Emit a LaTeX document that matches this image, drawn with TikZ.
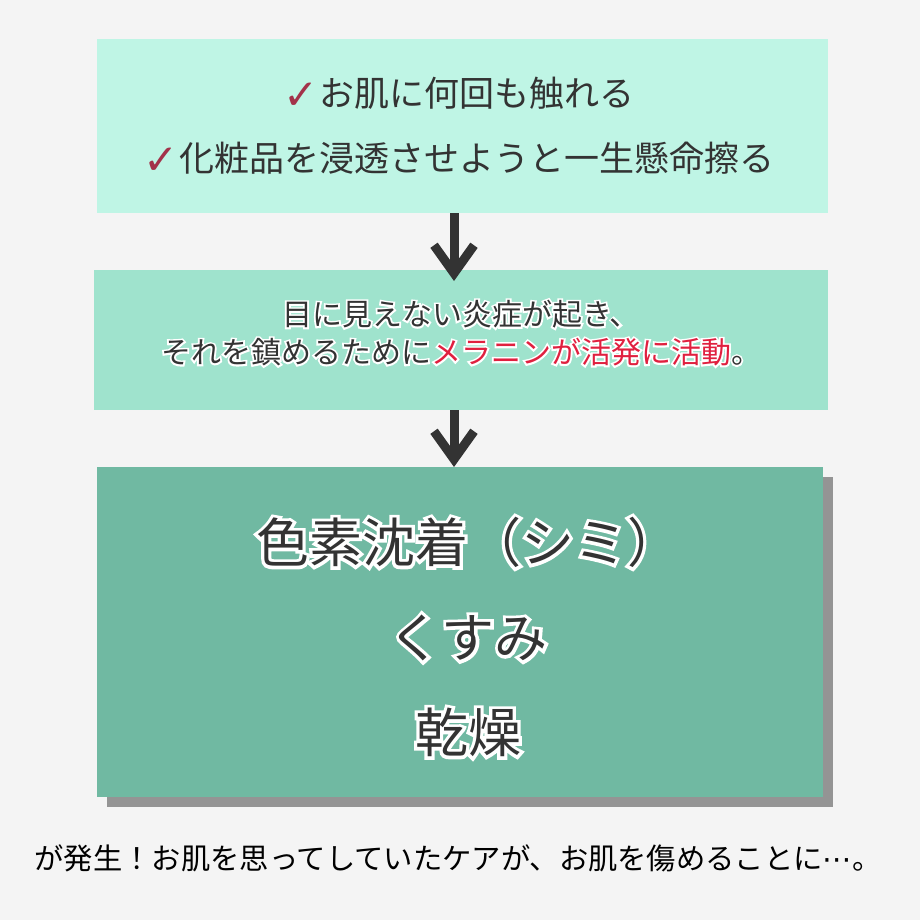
\documentclass[tikz,border=0pt]{standalone}
\usepackage{fontspec}
\setmainfont{Noto Sans CJK JP}
\newfontfamily\jpfont{Noto Sans CJK JP}
\newfontfamily\jphalo{Noto Sans CJK JP}[FakeBold=12]
\newfontfamily\symfont{DejaVu Sans}
\usetikzlibrary{arrows.meta,shadows}

\definecolor{bg-gray}{HTML}{F4F4F4}
\definecolor{mint-light}{HTML}{BFF5E5}
\definecolor{mint-mid}{HTML}{9FE3CD}
\definecolor{mint-dark}{HTML}{70B9A2}
\definecolor{ink}{HTML}{333333}
\definecolor{check-red}{HTML}{A3324A}
\definecolor{melanin}{HTML}{E0203F}

\newcommand{\checkmk}{{\symfont\color{check-red}\fontsize{42pt}{42pt}\selectfont\raisebox{-3pt}{✓}}}
\newcommand{\halotext}[4]{% name, position, size, text
  \node[halo-under, font=\jphalo\fontsize{#3}{#3}\selectfont] at (#2) {#4};
  \node[halo-over, font=\jpfont\fontsize{#3}{#3}\selectfont] (#1) at (#2) {#4};}

\tikzset{
  box/.style={rectangle, inner sep=0pt, outer sep=0pt},
  halo-under/.style={text=white, align=center, inner sep=0pt,
    execute at begin node={\colorlet{melanin}{white}}},
  halo-over/.style={text=ink, align=center, inner sep=0pt},
  flow-arrow/.style={draw=ink, line width=9pt,
    -{Straight Barb[length=28pt, width=40pt, line join=miter]}}
}

\begin{document}
\begin{tikzpicture}[x=1pt,y=-1pt]
        \fill[bg-gray] (0,0) rectangle (920,920);
        \coordinate (arrow-x) at (454,0);

        \node[box, fill=mint-light, minimum width=731pt, minimum height=174pt]
            (touch-box) at (462.5,126) {};
        \node[text=ink, align=center, font=\jpfont\fontsize{35pt}{65pt}\selectfont]
            (touch-text) at (459,126)
            {\checkmk お肌に何回も触れる\\\checkmk 化粧品を浸透させようと一生懸命擦る};
        \node[box, fill=mint-mid, minimum width=734pt, minimum height=140pt]
            (inflame-box) at (461,340) {};

        \draw[flow-arrow] (touch-box.south -| arrow-x) -- ([yshift=-11pt]inflame-box.north -| arrow-x);
        \draw[flow-arrow] (inflame-box.south -| arrow-x) -- (454,467);

        \node[box, fill=mint-dark, minimum width=726pt, minimum height=330pt,
            drop shadow={shadow xshift=10pt, shadow yshift=-10pt, fill=black!42, opacity=1}]
            (result-box) at (460,632) {};

        \halotext{inflame-text}{461,333}{30pt}
            {目に見えない炎症が起き、\\[8pt]それを鎮めるために\textcolor{melanin}{メラニンが活発に活動}。}
        \halotext{result-text}{468,637}{53pt}
            {色素沈着（シミ）\\[42pt]くすみ\\[42pt]乾燥}

        \node[text=black, font=\jpfont\fontsize{29.3pt}{30pt}\selectfont]
            (note-text) at (458,858) {が発生！お肌を思ってしていたケアが、お肌を傷めることに{\symfont ⋯}。};
\end{tikzpicture}
\end{document}
